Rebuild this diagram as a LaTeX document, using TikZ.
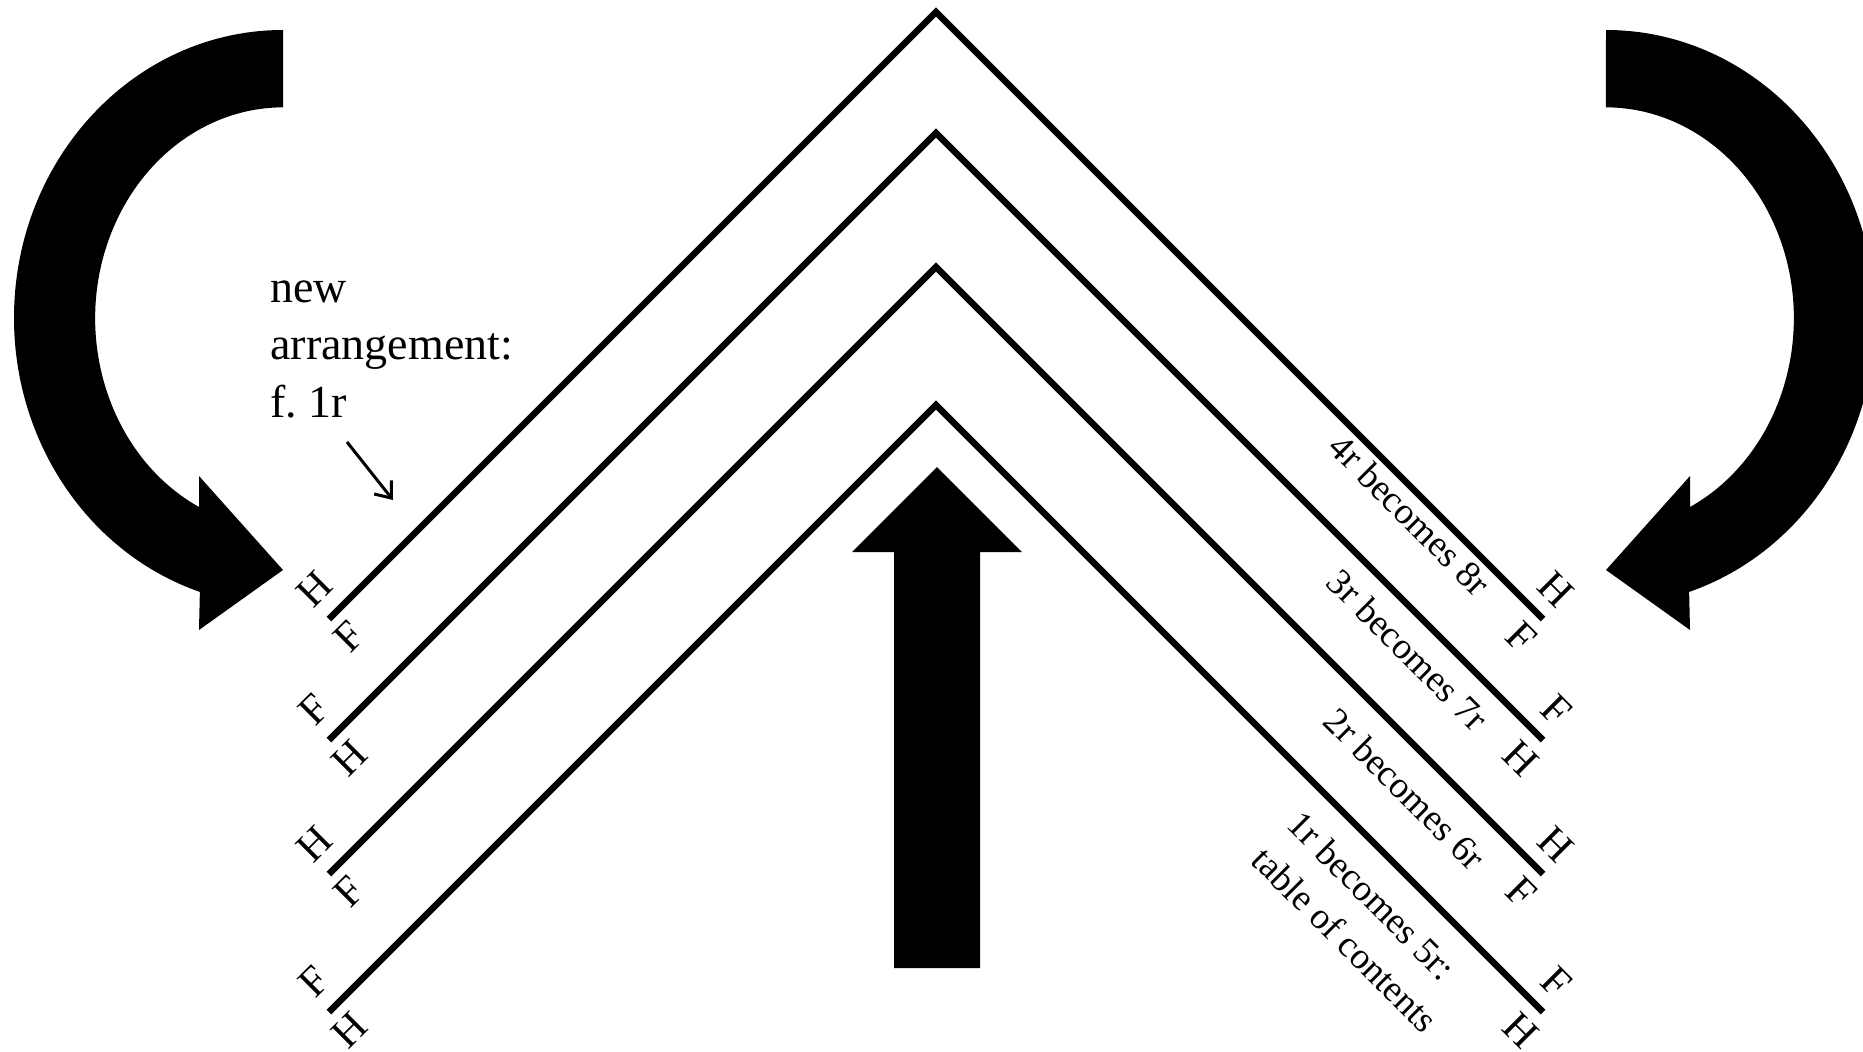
\documentclass[tikz,border=0pt]{standalone}
\usepackage{fontspec}
\setmainfont{Liberation Serif}
\usetikzlibrary{arrows.meta,calc}

\begin{document}
\begin{tikzpicture}[x=0.5pt,y=-0.5pt,
  fold/.style={line width=3.3pt,line join=miter,miter limit=10},
  leaf/.style={font=\fontsize{21}{24}\selectfont,inner sep=0pt},
  note/.style={font=\fontsize{18.5}{25}\selectfont,inner sep=0pt,align=left,rotate=-45}]
  \clip (0,0) rectangle (1863,1051);
  % folded sheets, outermost first
  \foreach \i/\y/\up/\lo in {1/12/H/F,2/133/F/H,3/267/H/F,4/405/F/H}{
    \coordinate (apex\i) at (936,\y);
    \coordinate (left\i) at (329,\y+607);
    \coordinate (right\i) at (1543,\y+607);
    \draw[fold] (left\i) -- (apex\i) -- (right\i);
    \node[leaf,rotate=45] (lu\i) at ($(left\i)+(-15,-30)$) {\up};
    \node[leaf,rotate=45] (ll\i) at ($(left\i)+(20,18)$) {\lo};
    \node[leaf,rotate=-45] (ru\i) at ($(right\i)+(13,-30)$) {\up};
    \node[leaf,rotate=-45] (rl\i) at ($(right\i)+(-22,18)$) {\lo};
  }
  % turning arrows
  \fill (283,30) arc[start angle=-90,end angle=-252,x radius=269,y radius=288]
    -- (199,630) -- (283,570) -- (199,476) -- (199,507)
    arc[start angle=-243.4,end angle=-90,x radius=188,y radius=211] -- cycle;
  \fill (1606,30) arc[start angle=-90,end angle=72,x radius=269,y radius=288]
    -- (1690,630) -- (1606,570) -- (1690,476) -- (1690,507)
    arc[start angle=63.4,end angle=-90,x radius=188,y radius=211] -- cycle;
  % upward arrow
  \fill (894,968) -- (894,552) -- (852,552) -- (937,467) -- (1022,552)
    -- (980,552) -- (980,968) -- cycle;
  % labels
  \node[font=\fontsize{23}{28.75}\selectfont,align=left,anchor=north west,inner sep=0pt]
    (newarr) at (270,280) {new\\arrangement:\\f.\ 1r};
  \coordinate (ptr0) at (347,442);
  \coordinate (ptr1) at (393,500);
  \draw[line width=1.5pt,-{Straight Barb[length=7pt,width=11pt]}] (ptr0) -- (ptr1);
  \node[note] (r4) at (1410,515) {4r becomes 8r};
  \node[note] (r3) at (1408,650) {3r becomes 7r};
  \node[note] (r2) at (1405,789) {2r becomes 6r};
  \node[note] (r1) at (1363,922) {1r becomes 5r:\\table of contents};
\end{tikzpicture}
\end{document}
